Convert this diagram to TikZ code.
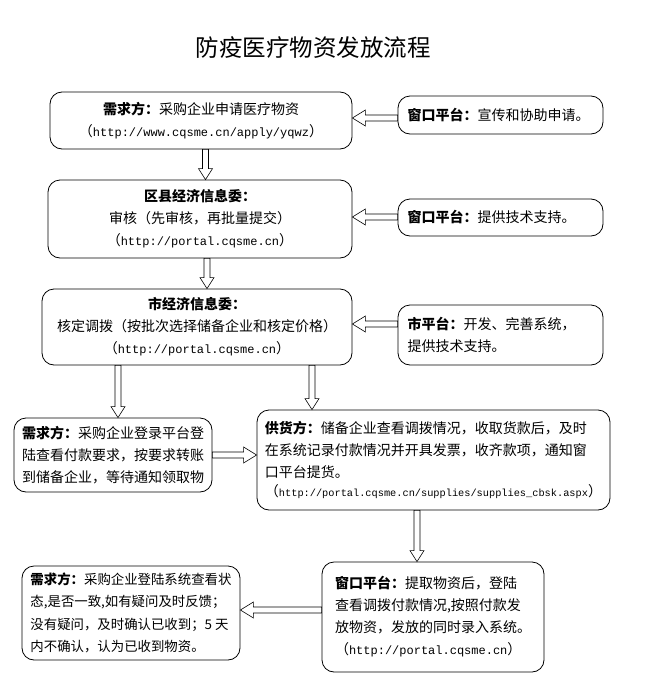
\documentclass[tikz,border=0pt]{standalone}
\usepackage{fontspec}
\setmainfont{Noto Sans CJK SC}
\newfontfamily\urlf{Liberation Mono}
\usetikzlibrary{calc}
\tikzset{
  box/.style={draw, line width=0.8pt, rounded corners=12pt, inner sep=3pt,
    font=\fontsize{14}{22}\selectfont, align=center},
  lbox/.style={box, align=left},
  abox/.style={lbox, minimum width=205pt, text width=186pt},
  barrow/.style={draw, line width=0.6pt, fill=white},
}
\newcommand{\myurl}[2][12]{{（}{\fontsize{#1}{22}\urlf #2}{）}}
% vertical down arrow: x, from, to
\newcommand{\darrow}[3]{%
  \path[barrow] let \p1=(#2), \p2=(#3) in
    (#1pt-3pt,\y1) -- (#1pt+3pt,\y1) -- (#1pt+3pt,\y2+11pt) -- (#1pt+7pt,\y2+11pt)
    -- (#1pt,\y2) -- (#1pt-7pt,\y2+11pt) -- (#1pt-3pt,\y2+11pt) -- cycle;}
% left arrow: y(pixel), from (right), to (tip, left)
\newcommand{\larrow}[3]{%
  \path[barrow] let \p1=(#2), \p2=(#3) in
    (\x1,-#1pt+3pt) -- (\x2+13pt,-#1pt+3pt) -- (\x2+13pt,-#1pt+8pt) -- (\x2,-#1pt)
    -- (\x2+13pt,-#1pt-8pt) -- (\x2+13pt,-#1pt-3pt) -- (\x1,-#1pt-3pt) -- cycle;}
% right arrow: y(pixel), from (left), to (tip, right)
\newcommand{\rarrow}[3]{%
  \path[barrow] let \p1=(#2), \p2=(#3) in
    (\x1,-#1pt+3pt) -- (\x2-13pt,-#1pt+3pt) -- (\x2-13pt,-#1pt+8pt) -- (\x2,-#1pt)
    -- (\x2-13pt,-#1pt-8pt) -- (\x2-13pt,-#1pt-3pt) -- (\x1,-#1pt-3pt) -- cycle;}
\begin{document}
\begin{tikzpicture}[x=1pt,y=-1pt]
\useasboundingbox[fill=white] (0,0) rectangle (649,688);

\node (title) at (313,48) {\fontsize{23.5}{24}\selectfont 防疫医疗物资发放流程};

\node[box, minimum width=302pt, minimum height=57pt] (b1) at (201,120.5)
  {\textbf{需求方：}采购企业申请医疗物资\\\myurl{http://www.cqsme.cn/apply/yqwz}};
\node[abox, minimum height=38pt] (a1) at (500.5,115)
  {\textbf{窗口平台：}宣传和协助申请。};

\node[box, minimum width=304pt, minimum height=78pt] (b2) at (200,219)
  {\textbf{区县经济信息委：}\\审核（先审核，再批量提交）\\\myurl{http://portal.cqsme.cn}};
\node[abox, minimum height=37pt] (a2) at (500.5,217.5)
  {\textbf{窗口平台：}提供技术支持。};

\node[box, minimum width=310pt, minimum height=76pt] (b3) at (197,327)
  {\textbf{市经济信息委：}\\核定调拨（按批次选择储备企业和核定价格）\\\myurl{http://portal.cqsme.cn}};
\node[abox, minimum height=60pt] (a3) at (500.5,335)
  {\textbf{市平台：}开发、完善系统，\\提供技术支持。};

\node[lbox, minimum width=198pt, minimum height=74pt] (b4) at (113,455)
  {\textbf{需求方：}采购企业登录平台登\\陆查看付款要求，按要求转账\\到储备企业，等待通知领取物};
\node[lbox, minimum width=353pt, minimum height=100pt] (b5) at (433.5,460)
  {\textbf{供货方：}储备企业查看调拨情况，收取货款后，及时\\在系统记录付款情况并开具发票，收齐款项，通知窗\\口平台提货。\\[-3pt]\myurl[10.3]{http://portal.cqsme.cn/supplies/supplies\_cbsk.aspx}};

\node[lbox, minimum width=222pt, minimum height=110pt] (b6) at (433,617)
  {\textbf{窗口平台：}提取物资后，登陆\\查看调拨付款情况,按照付款发\\放物资，发放的同时录入系统。\\\myurl{http://portal.cqsme.cn}};
\node[lbox, minimum width=218pt, minimum height=94pt, font=\fontsize{13.4}{22.5}\selectfont] (b7) at (131,613)
  {\textbf{需求方：}采购企业登陆系统查看状\\态,是否一致,如有疑问及时反馈；\\没有疑问，及时确认已收到；5 天\\内不确认，认为已收到物资。};

\larrow{118}{a1.west}{b1.east}
\larrow{217}{a2.west}{b2.east}
\larrow{324}{a3.west}{b3.east}
\darrow{205.5}{b1.south}{b2.north}
\darrow{207}{b2.south}{b3.north}
\darrow{118}{b3.south}{b4.north}
\darrow{312}{b3.south}{b5.north}
\rarrow{455}{b4.east}{b5.west}
\darrow{417}{b5.south}{b6.north}
\larrow{610}{b6.west}{b7.east}
\end{tikzpicture}
\end{document}
